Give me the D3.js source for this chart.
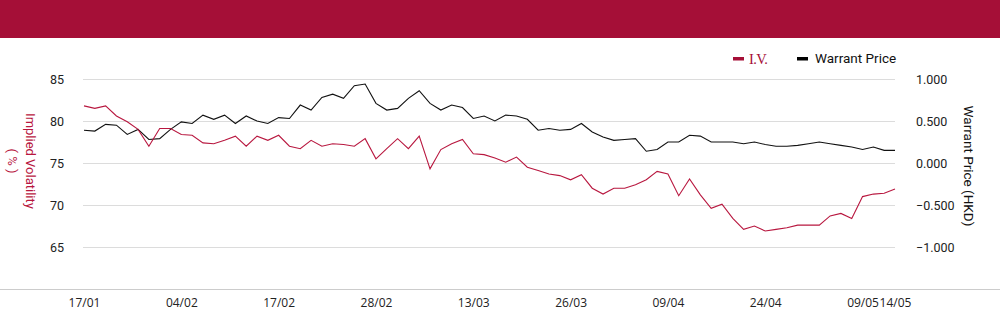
<!DOCTYPE html>
<html>
<head>
<meta charset="utf-8">
<script src="https://cdn.jsdelivr.net/npm/d3@7"></script>
<style>
html,body{margin:0;padding:0;background:#fff;}
svg{display:block;}
</style>
</head>
<body>
<svg id="chart" width="1000" height="324"></svg>
<script>
// ---- data ----
const dates = ["17/01","20/01","21/01","22/01","23/01","24/01","27/01","28/01","03/02","04/02",
"05/02","06/02","07/02","10/02","11/02","12/02","13/02","14/02","17/02","18/02",
"19/02","20/02","21/02","24/02","25/02","26/02","27/02","28/02","03/03","04/03",
"05/03","06/03","07/03","10/03","11/03","12/03","13/03","14/03","17/03","18/03",
"19/03","20/03","21/03","24/03","25/03","26/03","27/03","28/03","31/03","01/04",
"02/04","03/04","07/04","08/04","09/04","10/04","11/04","14/04","15/04","16/04",
"17/04","22/04","23/04","24/04","25/04","28/04","29/04","30/04","02/05","06/05",
"07/05","08/05","09/05","12/05","13/05","14/05"];
const ivValues = [81.8,81.5,81.8,80.6,79.9,79.0,77.0,79.1,79.1,78.4,
78.3,77.4,77.3,77.7,78.2,77.0,78.2,77.7,78.3,77.0,
76.7,77.7,77.0,77.3,77.2,77.0,77.9,75.5,76.7,77.9,
76.7,78.2,74.3,76.6,77.3,77.8,76.1,76.0,75.6,75.1,
75.7,74.5,74.1,73.7,73.5,73.0,73.6,72.0,71.3,72.0,
72.0,72.4,73.0,74.0,73.7,71.1,73.1,71.2,69.6,70.1,
68.4,67.1,67.5,66.9,67.1,67.3,67.6,67.6,67.6,68.7,
69.0,68.4,71.0,71.3,71.4,71.9];
const priceValues = [0.39,0.38,0.46,0.45,0.34,0.40,0.28,0.29,0.40,0.49,
0.47,0.57,0.52,0.57,0.47,0.56,0.50,0.47,0.54,0.53,
0.69,0.63,0.78,0.82,0.77,0.92,0.94,0.71,0.63,0.65,
0.77,0.86,0.71,0.63,0.69,0.66,0.53,0.56,0.50,0.57,
0.56,0.52,0.39,0.41,0.39,0.40,0.47,0.37,0.31,0.27,
0.28,0.29,0.14,0.16,0.25,0.25,0.33,0.32,0.25,0.25,
0.25,0.23,0.25,0.22,0.20,0.20,0.21,0.23,0.25,0.23,
0.21,0.19,0.16,0.19,0.15,0.15];
const xTickLabels = ["17/01","04/02","17/02","28/02","13/03","26/03","09/04","24/04","09/05","14/05"];
const leftTicks = [65,70,75,80,85];
const rightTicks = [-1,-0.5,0,0.5,1];

// ---- layout ----
const RED = "#a50f37";
const LINE_RED = "#b8173f";
const svg = d3.select("#chart");

svg.append("rect").attr("x",0).attr("y",0).attr("width",1000).attr("height",38).attr("fill",RED);

const x = d3.scalePoint().domain(dates).range([84, 895]);
const yL = d3.scaleLinear().domain([60, 85]).range([289, 79]);
const yR = d3.scaleLinear().domain([-1.5, 1]).range([289, 79]);

// gridlines
const grid = svg.append("g");
grid.selectAll("line").data(leftTicks).join("line")
  .attr("x1",83).attr("x2",895)
  .attr("y1",d=>Math.round(yL(d))+0.5).attr("y2",d=>Math.round(yL(d))+0.5)
  .attr("stroke","#dcdcdc").attr("stroke-width",1);

// bottom axis line
svg.append("line").attr("x1",0).attr("x2",1000).attr("y1",289.5).attr("y2",289.5)
  .attr("stroke","#cccccc").attr("stroke-width",1);

// left axis
const leftAxis = d3.axisLeft(yL).tickValues(leftTicks).tickSize(0).tickPadding(0).tickFormat(d3.format("d"));
const gL = svg.append("g").attr("transform","translate(64,0)").call(leftAxis);
gL.select(".domain").remove();
gL.selectAll("text").attr("font-family","Roboto, 'Liberation Sans', sans-serif").attr("font-size","12.5px").attr("fill","#222");

// right axis
const rightAxis = d3.axisRight(yR).tickValues(rightTicks).tickSize(0).tickPadding(0).tickFormat(d3.format(".3f"));
const gR = svg.append("g").attr("transform","translate(916,0)").call(rightAxis);
gR.select(".domain").remove();
gR.selectAll("text").attr("font-family","Roboto, 'Liberation Sans', sans-serif").attr("font-size","12.5px").attr("fill","#222");

// bottom axis
const bottomAxis = d3.axisBottom(x).tickValues(xTickLabels).tickSize(0).tickPadding(0);
const gB = svg.append("g").attr("transform","translate(0,298)").call(bottomAxis);
gB.select(".domain").remove();
gB.selectAll("text").attr("font-family","'Open Sans', 'Noto Sans', sans-serif").attr("font-size","12px").attr("fill","#222");

// axis titles
const lt = svg.append("text").attr("transform","translate(31,161) rotate(90)")
  .attr("text-anchor","middle").attr("font-family","Roboto, sans-serif").attr("font-size","13px").attr("fill",LINE_RED);
lt.append("tspan").attr("x",0).attr("dy","0.35em").text("Implied Volatility");
lt.append("tspan").attr("x",0).attr("dy","1.45em").text("( % )");

svg.append("text").attr("transform","translate(969,166) rotate(90)")
  .attr("text-anchor","middle").attr("dy","0.35em")
  .attr("font-family","Roboto, sans-serif").attr("font-size","13.5px").attr("fill","#111")
  .text("Warrant Price (HKD)");

// lines
const ivLine = d3.line().x((d,i)=>x(dates[i])).y(d=>yL(d));
const prLine = d3.line().x((d,i)=>x(dates[i])).y(d=>yR(d));
svg.append("path").datum(priceValues).attr("d",prLine).attr("fill","none").attr("stroke","#111").attr("stroke-width",1.1);
svg.append("path").datum(ivValues).attr("d",ivLine).attr("fill","none").attr("stroke",LINE_RED).attr("stroke-width",1.1);

// legend
const lg = svg.append("g");
lg.append("rect").attr("x",733).attr("y",57).attr("width",11).attr("height",3.5).attr("fill",RED);
lg.append("text").attr("x",749).attr("y",64).attr("font-family","'Liberation Serif', serif").attr("font-size","14.5px").attr("letter-spacing","-0.6px").attr("fill",RED).text("I.V.");
lg.append("rect").attr("x",797).attr("y",57).attr("width",11).attr("height",3.5).attr("fill","#000");
lg.append("text").attr("x",815).attr("y",63).attr("font-family","Roboto, sans-serif").attr("font-size","13.5px").attr("fill","#111").text("Warrant Price");
</script>
</body>
</html>
